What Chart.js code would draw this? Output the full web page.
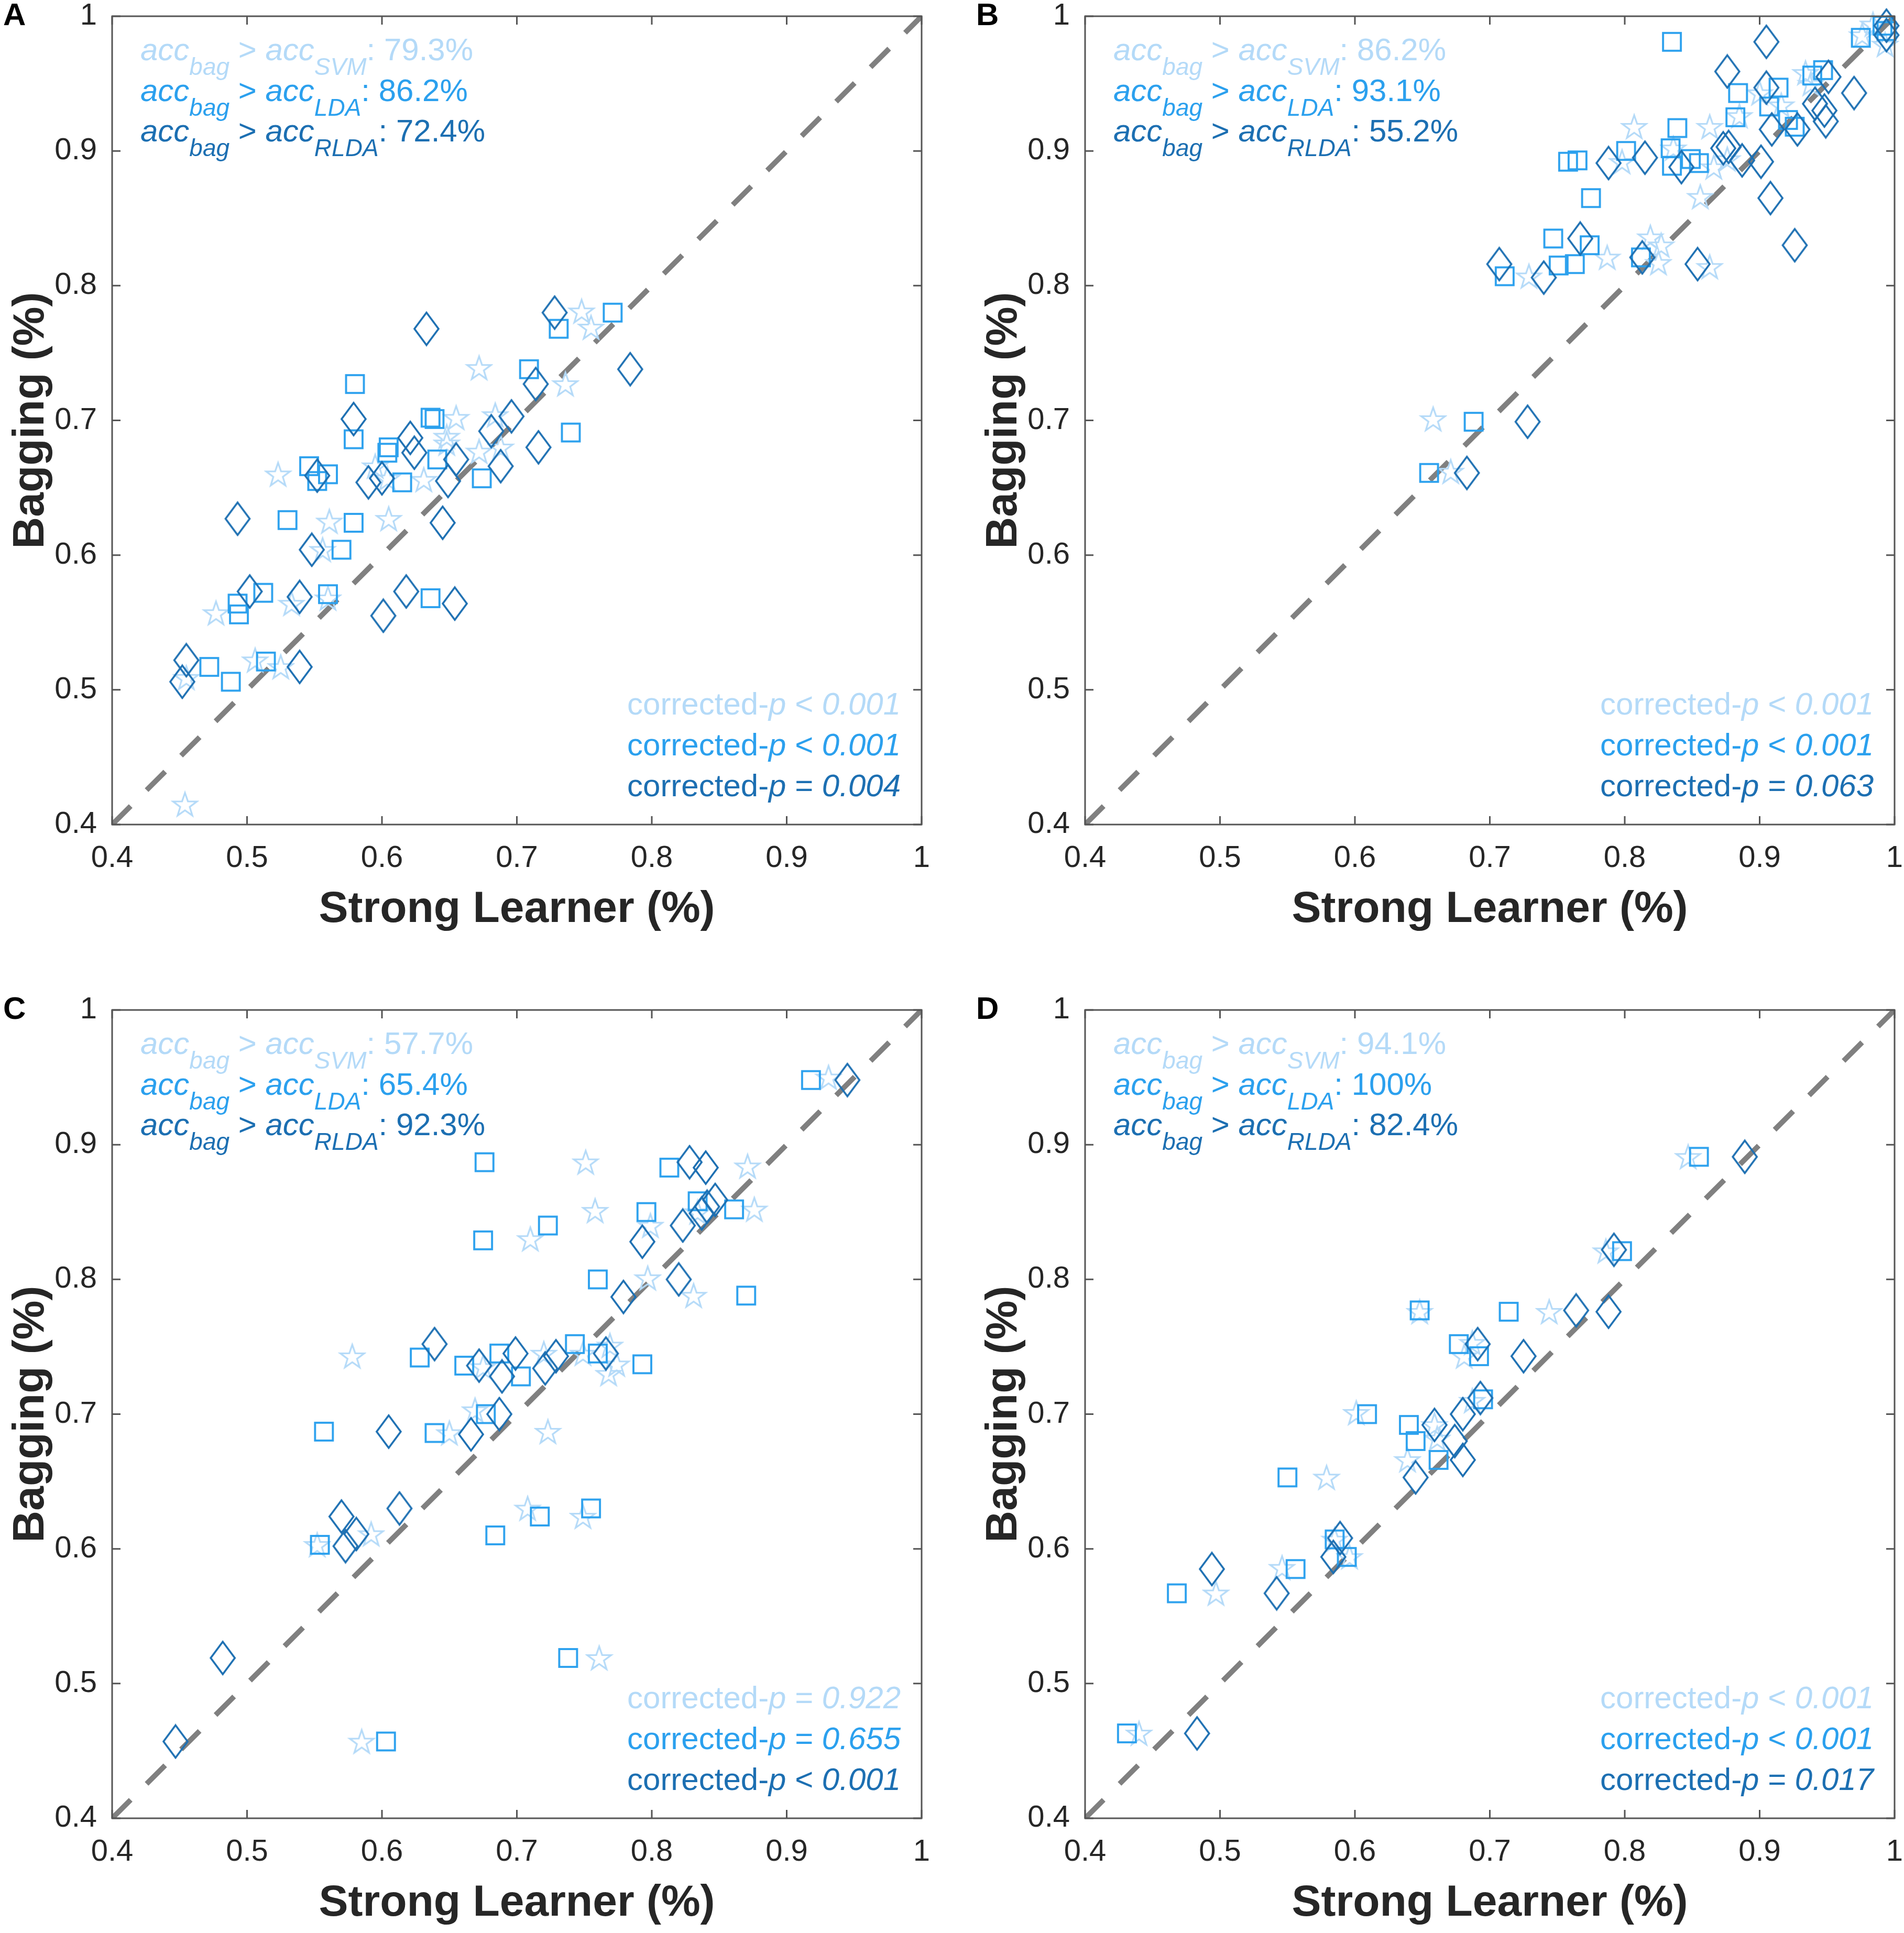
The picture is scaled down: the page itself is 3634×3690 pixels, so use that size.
<!DOCTYPE html>
<html>
<head>
<meta charset="utf-8">
<script src="https://cdn.jsdelivr.net/npm/chart.js@4.4.1/dist/chart.umd.min.js"></script>
<style>
  html, body { margin: 0; padding: 0; background: #fff; overflow: hidden; }
  body { width: 3634px; height: 3690px; position: relative; }
  canvas { position: absolute; }
</style>
</head>
<body>
<canvas id="panelA"></canvas>
<canvas id="panelB"></canvas>
<canvas id="panelC"></canvas>
<canvas id="panelD"></canvas>
<script>
// ---------- data ----------
const axisTicks = [0.4, 0.5, 0.6, 0.7, 0.8, 0.9, 1];
const diagonal = [0.4, 1];
const methods = ['SVM', 'LDA', 'RLDA'];

// panel A
const a_svm_x = [0.748, 0.755, 0.672, 0.736, 0.655, 0.684, 0.648, 0.648, 0.672, 0.688, 0.523, 0.595, 0.631, 0.604, 0.561, 0.605, 0.556, 0.477, 0.533, 0.560, 0.506, 0.525, 0.454, 0.455];
const a_svm_y = [0.781, 0.769, 0.739, 0.727, 0.702, 0.704, 0.688, 0.683, 0.677, 0.680, 0.660, 0.666, 0.656, 0.657, 0.625, 0.627, 0.604, 0.557, 0.564, 0.568, 0.522, 0.517, 0.415, 0.509];
const a_lda_x = [0.771, 0.731, 0.709, 0.580, 0.636, 0.639, 0.579, 0.740, 0.605, 0.604, 0.641, 0.546, 0.560, 0.552, 0.615, 0.674, 0.530, 0.579, 0.570, 0.512, 0.560, 0.493, 0.494, 0.636, 0.472, 0.488, 0.514];
const a_lda_y = [0.780, 0.768, 0.738, 0.727, 0.702, 0.701, 0.686, 0.691, 0.680, 0.676, 0.671, 0.666, 0.660, 0.655, 0.654, 0.657, 0.626, 0.624, 0.604, 0.572, 0.571, 0.564, 0.556, 0.568, 0.517, 0.506, 0.521];
const a_rlda_x = [0.728, 0.633, 0.784, 0.714, 0.579, 0.696, 0.681, 0.621, 0.624, 0.655, 0.716, 0.688, 0.552, 0.600, 0.590, 0.649, 0.645, 0.548, 0.493, 0.502, 0.539, 0.618, 0.601, 0.654, 0.455, 0.452, 0.539];
const a_rlda_y = [0.780, 0.768, 0.738, 0.727, 0.701, 0.703, 0.692, 0.687, 0.676, 0.671, 0.680, 0.666, 0.659, 0.657, 0.654, 0.655, 0.624, 0.604, 0.627, 0.573, 0.569, 0.573, 0.555, 0.564, 0.522, 0.506, 0.517];
const a_pct = ['79.3%', '86.2%', '72.4%'];
const a_p = [['<', '0.001'], ['<', '0.001'], ['=', '0.004']];

// panel B
const b_svm_x = [0.807, 0.863, 0.856, 0.819, 0.827, 0.825, 0.787, 0.863, 0.729, 0.934, 0.976, 0.993, 0.984, 0.900, 0.885, 0.916, 0.836, 0.876, 0.798, 0.866, 0.938, 0.658, 0.671];
const b_svm_y = [0.918, 0.918, 0.866, 0.836, 0.830, 0.817, 0.821, 0.814, 0.807, 0.958, 0.986, 0.979, 0.994, 0.943, 0.926, 0.934, 0.902, 0.894, 0.892, 0.888, 0.950, 0.701, 0.662];
const b_lda_x = [0.835, 0.975, 0.991, 0.994, 0.947, 0.939, 0.914, 0.884, 0.907, 0.882, 0.921, 0.926, 0.839, 0.801, 0.834, 0.835, 0.758, 0.765, 0.849, 0.855, 0.775, 0.747, 0.774, 0.751, 0.763, 0.812, 0.711, 0.688, 0.655];
const b_lda_y = [0.981, 0.984, 0.993, 0.989, 0.960, 0.956, 0.947, 0.943, 0.933, 0.925, 0.923, 0.918, 0.917, 0.900, 0.902, 0.889, 0.892, 0.893, 0.894, 0.891, 0.865, 0.835, 0.830, 0.815, 0.816, 0.821, 0.807, 0.699, 0.661];
const b_rlda_x = [0.905, 0.876, 0.905, 0.970, 0.994, 0.994, 0.951, 0.941, 0.948, 0.949, 0.909, 0.928, 0.873, 0.877, 0.887, 0.901, 0.815, 0.788, 0.842, 0.908, 0.926, 0.767, 0.813, 0.854, 0.740, 0.707, 0.728, 0.683];
const b_rlda_y = [0.981, 0.959, 0.947, 0.943, 0.986, 0.993, 0.955, 0.935, 0.930, 0.922, 0.916, 0.916, 0.902, 0.903, 0.893, 0.892, 0.895, 0.891, 0.888, 0.865, 0.830, 0.835, 0.821, 0.816, 0.806, 0.816, 0.699, 0.661];
const b_pct = ['86.2%', '93.1%', '55.2%'];
const b_p = [['<', '0.001'], ['<', '0.001'], ['=', '0.063']];

// panel C
const c_svm_x = [0.931, 0.751, 0.871, 0.758, 0.876, 0.710, 0.799, 0.797, 0.831, 0.578, 0.768, 0.769, 0.774, 0.720, 0.749, 0.669, 0.650, 0.723, 0.708, 0.749, 0.592, 0.552, 0.761, 0.585, 0.675, 0.834];
const c_svm_y = [0.950, 0.887, 0.884, 0.851, 0.852, 0.830, 0.840, 0.801, 0.788, 0.743, 0.730, 0.751, 0.737, 0.745, 0.745, 0.703, 0.686, 0.687, 0.630, 0.624, 0.611, 0.603, 0.519, 0.457, 0.735, 0.850];
const c_lda_x = [0.918, 0.676, 0.813, 0.834, 0.861, 0.796, 0.723, 0.675, 0.760, 0.870, 0.743, 0.628, 0.687, 0.760, 0.661, 0.793, 0.703, 0.677, 0.557, 0.639, 0.755, 0.717, 0.684, 0.554, 0.738, 0.603];
const c_lda_y = [0.948, 0.887, 0.883, 0.858, 0.852, 0.850, 0.840, 0.829, 0.800, 0.788, 0.752, 0.742, 0.745, 0.745, 0.736, 0.737, 0.728, 0.700, 0.687, 0.686, 0.630, 0.624, 0.610, 0.603, 0.519, 0.457];
const c_rlda_x = [0.945, 0.828, 0.840, 0.847, 0.841, 0.837, 0.823, 0.793, 0.820, 0.779, 0.639, 0.699, 0.729, 0.766, 0.672, 0.721, 0.689, 0.687, 0.666, 0.605, 0.570, 0.613, 0.581, 0.573, 0.482, 0.447];
const c_rlda_y = [0.948, 0.887, 0.883, 0.859, 0.854, 0.849, 0.840, 0.828, 0.800, 0.787, 0.752, 0.745, 0.743, 0.745, 0.736, 0.734, 0.728, 0.700, 0.685, 0.687, 0.624, 0.630, 0.611, 0.602, 0.519, 0.457];
const c_pct = ['57.7%', '65.4%', '92.3%'];
const c_p = [['=', '0.922'], ['=', '0.655'], ['<', '0.001']];

// panel D
const d_svm_x = [0.847, 0.786, 0.648, 0.744, 0.681, 0.687, 0.601, 0.687, 0.659, 0.639, 0.579, 0.596, 0.546, 0.497, 0.440, 0.585, 0.661];
const d_svm_y = [0.891, 0.821, 0.776, 0.776, 0.743, 0.753, 0.701, 0.710, 0.692, 0.666, 0.653, 0.594, 0.586, 0.567, 0.463, 0.607, 0.682];
const d_lda_x = [0.855, 0.798, 0.648, 0.714, 0.677, 0.692, 0.695, 0.609, 0.640, 0.645, 0.662, 0.550, 0.585, 0.594, 0.556, 0.468, 0.431];
const d_lda_y = [0.891, 0.821, 0.777, 0.776, 0.752, 0.743, 0.711, 0.700, 0.692, 0.680, 0.666, 0.653, 0.607, 0.594, 0.585, 0.567, 0.463];
const d_rlda_x = [0.889, 0.792, 0.764, 0.788, 0.691, 0.725, 0.693, 0.680, 0.659, 0.674, 0.680, 0.645, 0.589, 0.584, 0.494, 0.542, 0.483];
const d_rlda_y = [0.891, 0.822, 0.777, 0.776, 0.752, 0.743, 0.712, 0.700, 0.692, 0.680, 0.666, 0.653, 0.608, 0.594, 0.585, 0.567, 0.463];
const d_pct = ['94.1%', '100%', '82.4%'];
const d_p = [['<', '0.001'], ['<', '0.001'], ['=', '0.017']];

// ---------- style ----------
const FONT = '"Liberation Sans", Arial, Helvetica, sans-serif';
const colors = ['#b4daf8', '#2ba0ee', '#1c6fb2'];   // SVM, LDA, RLDA
const AXIS_COLOR = '#555555';
const TEXT_COLOR = '#262626';
const PLOT_W = 1545, PLOT_H = 1543;
// the top/right padding must exceed half a tick label + tick padding,
// otherwise chart.js grows it and the plot area shrinks
const Y_W = 230, X_H = 280, PAD_TOP = 70, PAD_RIGHT = 80;

Chart.defaults.font.family = FONT;
Chart.defaults.color = TEXT_COLOR;

// marker images (unfilled star, square, tall diamond like MATLAB)
function makeMarker(kind, color) {
  const c = document.createElement('canvas');
  const g = c.getContext('2d');
  g.strokeStyle = color;
  if (kind === 'square') {
    c.width = 42; c.height = 42;
    g.strokeStyle = color; g.lineWidth = 3.8;
    g.strokeRect(4, 4, 34, 34);
  } else if (kind === 'diamond') {
    c.width = 52; c.height = 68;
    g.strokeStyle = color; g.lineWidth = 3.6;
    g.beginPath();
    g.moveTo(26, 3); g.lineTo(49, 34); g.lineTo(26, 65); g.lineTo(3, 34);
    g.closePath(); g.stroke();
  } else {
    c.width = 54; c.height = 54;
    g.strokeStyle = color; g.lineWidth = 3.2;
    const R = 24, r = 9.5, cx = 27, cy = 29;
    g.beginPath();
    for (let i = 0; i < 10; i++) {
      const rad = i % 2 === 0 ? R : r;
      const a = -Math.PI / 2 + i * Math.PI / 5;
      const px = cx + rad * Math.cos(a), py = cy + rad * Math.sin(a);
      if (i === 0) g.moveTo(px, py); else g.lineTo(px, py);
    }
    g.closePath(); g.stroke();
  }
  return c;
}
const markers = [makeMarker('star', colors[0]), makeMarker('square', colors[1]), makeMarker('diamond', colors[2])];

function pts(xs, ys) { return xs.map((v, i) => ({ x: v, y: ys[i] })); }

// rich text: italic parts and subscripts
const MAIN_SIZE = 60, SUB_SIZE = 46, SUB_DY = 28;
function drawRuns(ctx, x, y, runs, align) {
  const fontFor = r => (r.it ? 'italic ' : '') + (r.sub ? SUB_SIZE : MAIN_SIZE) + 'px ' + FONT;
  let total = 0;
  runs.forEach(r => { ctx.font = fontFor(r); r.w = ctx.measureText(r.t).width; total += r.w; });
  let cx = align === 'right' ? x - total : x;
  runs.forEach(r => {
    ctx.font = fontFor(r);
    ctx.fillText(r.t, cx, y + (r.sub ? SUB_DY : 0));
    cx += r.w;
  });
}

const panelDecor = {
  id: 'panelDecor',
  afterDraw(chart, args, opts) {
    const { ctx, chartArea: ca, scales } = chart;
    const TL = 16;
    ctx.save();
    // box
    ctx.strokeStyle = AXIS_COLOR;
    ctx.lineWidth = 3;
    ctx.strokeRect(ca.left, ca.top, ca.right - ca.left, ca.bottom - ca.top);
    // inward ticks on all four sides
    ctx.beginPath();
    scales.x.ticks.forEach(t => {
      const px = scales.x.getPixelForValue(t.value);
      ctx.moveTo(px, ca.bottom); ctx.lineTo(px, ca.bottom - TL);
      ctx.moveTo(px, ca.top); ctx.lineTo(px, ca.top + TL);
    });
    scales.y.ticks.forEach(t => {
      const py = scales.y.getPixelForValue(t.value);
      ctx.moveTo(ca.left, py); ctx.lineTo(ca.left + TL, py);
      ctx.moveTo(ca.right, py); ctx.lineTo(ca.right - TL, py);
    });
    ctx.stroke();

    // panel letter
    ctx.fillStyle = '#000';
    ctx.textBaseline = 'alphabetic';
    ctx.textAlign = 'left';
    ctx.font = 'bold 60px ' + FONT;
    ctx.fillText(opts.letter, ca.left - 208, ca.top + 17);

    // win percentages, top left
    methods.forEach((m, i) => {
      ctx.fillStyle = colors[i];
      drawRuns(ctx, ca.left + 54, ca.top + 84 + i * 77.5, [
        { t: 'acc', it: true }, { t: 'bag', it: true, sub: true },
        { t: ' > ' }, { t: 'acc', it: true }, { t: m, it: true, sub: true },
        { t: ': ' + opts.pct[i] }
      ], 'left');
    });
    // corrected p values, bottom right
    methods.forEach((m, i) => {
      ctx.fillStyle = colors[i];
      drawRuns(ctx, ca.right - 40, ca.bottom - 210 + i * 78, [
        { t: 'corrected-' }, { t: 'p', it: true },
        { t: ' ' + opts.p[i][0] + ' ' }, { t: opts.p[i][1], it: true }
      ], 'right');
    });
    ctx.restore();
  }
};

function makePanel(id, left, top, letter, series, pct, p) {
  const cv = document.getElementById(id);
  const W = Y_W + PLOT_W + PAD_RIGHT, H = PAD_TOP + PLOT_H + X_H;
  cv.width = W; cv.height = H;
  cv.style.left = (left - Y_W) + 'px';
  cv.style.top = (top - PAD_TOP) + 'px';
  cv.style.width = W + 'px'; cv.style.height = H + 'px';

  const datasets = series.map((s, i) => ({
    label: methods[i],
    data: pts(s[0], s[1]),
    pointStyle: markers[i],
    pointRadius: 22,
    pointHoverRadius: 22,
    clip: false,
    order: 3 - i
  }));
  datasets.push({
    type: 'line',
    label: 'identity',
    data: pts(diagonal, diagonal),
    borderColor: '#808080',
    borderWidth: 10,
    borderDash: [50, 43],
    borderCapStyle: 'butt',
    pointRadius: 0,
    fill: false,
    order: 4
  });

  const tickFmt = v => String(+v.toFixed(1));
  new Chart(cv, {
    type: 'scatter',
    data: { datasets },
    options: {
      responsive: false,
      animation: false,
      devicePixelRatio: 1,
      events: [],
      layout: { padding: { top: PAD_TOP, right: PAD_RIGHT, left: 0, bottom: 0 } },
      plugins: {
        legend: { display: false },
        tooltip: { enabled: false },
        panelDecor: { letter, pct, p }
      },
      scales: {
        x: {
          type: 'linear', min: 0.4, max: 1,
          afterBuildTicks: s => { s.ticks = axisTicks.map(v => ({ value: v })); },
          afterFit: s => { s.height = X_H; },
          grid: { display: false, drawTicks: false },
          border: { display: false },
          ticks: { font: { size: 58 }, color: TEXT_COLOR, padding: 30, maxRotation: 0, autoSkip: false, callback: tickFmt },
          title: { display: true, text: 'Strong Learner (%)', color: TEXT_COLOR, font: { size: 84, weight: 'bold' }, padding: { top: 0, bottom: 67 } }
        },
        y: {
          type: 'linear', min: 0.4, max: 1,
          afterBuildTicks: s => { s.ticks = axisTicks.map(v => ({ value: v })); },
          afterFit: s => { s.width = Y_W; },
          grid: { display: false, drawTicks: false },
          border: { display: false },
          ticks: { font: { size: 58 }, color: TEXT_COLOR, padding: 29, autoSkip: false, callback: tickFmt },
          title: { display: true, text: 'Bagging (%)', color: TEXT_COLOR, font: { size: 84, weight: 'bold' }, padding: { top: 25, bottom: 0 } }
        }
      }
    },
    plugins: [panelDecor]
  });
}

makePanel('panelA', 214, 31, 'A', [[a_svm_x, a_svm_y], [a_lda_x, a_lda_y], [a_rlda_x, a_rlda_y]], a_pct, a_p);
makePanel('panelB', 2071, 31, 'B', [[b_svm_x, b_svm_y], [b_lda_x, b_lda_y], [b_rlda_x, b_rlda_y]], b_pct, b_p);
makePanel('panelC', 214, 1928, 'C', [[c_svm_x, c_svm_y], [c_lda_x, c_lda_y], [c_rlda_x, c_rlda_y]], c_pct, c_p);
makePanel('panelD', 2071, 1928, 'D', [[d_svm_x, d_svm_y], [d_lda_x, d_lda_y], [d_rlda_x, d_rlda_y]], d_pct, d_p);
</script>
</body>
</html>
